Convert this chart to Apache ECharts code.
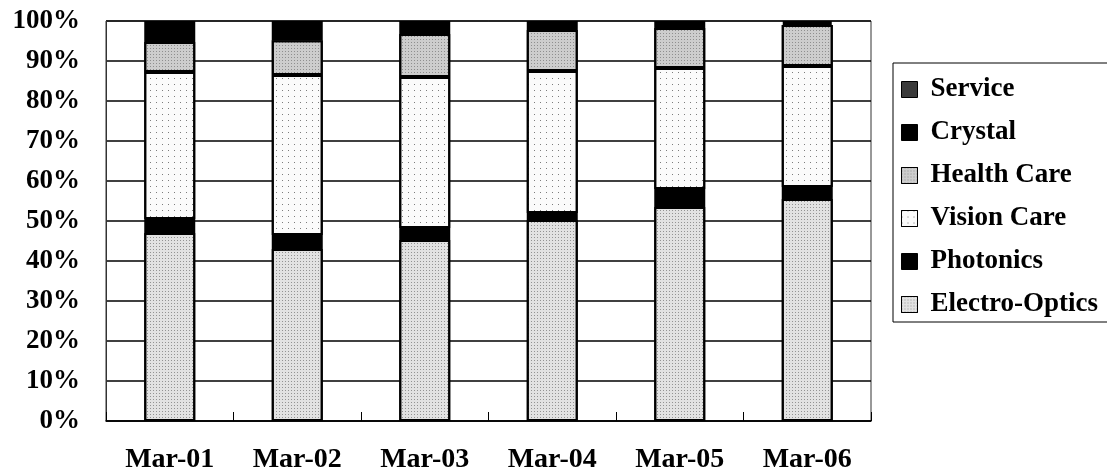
<!DOCTYPE html>
<html>
<head>
<meta charset="utf-8">
<script src="https://cdn.jsdelivr.net/npm/echarts@6/dist/echarts.min.js"></script>
<style>
  html, body { margin: 0; padding: 0; background: #fff; }
  #chart { width: 1107px; height: 476px; }
</style>
</head>
<body>
<div id="chart"></div>
<script>
// 类目 (x 轴)
var categories = ['Mar-01', 'Mar-02', 'Mar-03', 'Mar-04', 'Mar-05', 'Mar-06']
// 各业务占比 (%), 自下而上堆叠
var electroOptics = [47, 43, 45.25, 50.25, 53.5, 55.5]
var photonics = [3.5, 3.5, 3, 1.75, 4.5, 3]
var visionCare = [36.75, 40, 37.75, 35.5, 30.25, 30.25]
var healthCare = [7.5, 8.7, 10.75, 10.25, 10, 10.25]
var crystal = [4.25, 3.8, 2.25, 1.25, 0.75, 0.5]
var service = [1, 1, 1, 1, 1, 0.5]
// 图例顺序 (自上而下)
var legendOrder = ['Service', 'Crystal', 'Health Care', 'Vision Care', 'Photonics', 'Electro-Optics']

var fontFamily = '"Liberation Serif", "Times New Roman", serif'

// 点状纹理
function dots (step, alpha) {
  return {
    symbol: 'rect',
    symbolSize: 1,
    color: 'rgba(0,0,0,' + alpha + ')',
    dashArrayX: [1, step],
    dashArrayY: [1, step],
    rotation: 0
  }
}

function makeSeries (name, data, color, decal) {
  var itemStyle = {
    color: color,
    borderColor: '#000',
    borderWidth: 2
  }
  if (decal) {
    itemStyle.decal = decal
  }
  return {
    name: name,
    type: 'bar',
    stack: 'total',
    barWidth: 51,
    data: data,
    itemStyle: itemStyle,
    emphasis: { disabled: true }
  }
}

var chart = echarts.init(document.getElementById('chart'))
var options = {
  animation: false,
  backgroundColor: '#fff',
  textStyle: { fontFamily: fontFamily },
  grid: {
    show: true,
    left: 106,
    top: 21,
    width: 765,
    height: 400,
    borderColor: '#333',
    borderWidth: 1
  },
  legend: {
    orient: 'vertical',
    left: 893,
    top: 63,
    icon: 'rect',
    itemWidth: 16,
    itemHeight: 16,
    itemGap: 16,
    padding: [13, 60, 4, 8],
    borderColor: '#000',
    borderWidth: 1,
    data: legendOrder,
    itemStyle: { borderColor: '#000', borderWidth: 1 },
    textStyle: {
      fontFamily: fontFamily,
      fontWeight: 'bold',
      fontSize: 27,
      lineHeight: 27,
      color: '#000',
      padding: [0, 0, 0, 8]
    }
  },
  xAxis: {
    type: 'category',
    data: categories,
    axisLine: { show: true, lineStyle: { color: '#000', width: 1.5 } },
    axisTick: { show: true, inside: true, length: 9, lineStyle: { color: '#000' } },
    axisLabel: {
      margin: 25,
      color: '#000',
      fontFamily: fontFamily,
      fontWeight: 'bold',
      fontSize: 28
    }
  },
  yAxis: {
    type: 'value',
    min: 0,
    max: 100,
    interval: 10,
    axisLine: { show: true, lineStyle: { color: '#333', width: 1 } },
    axisTick: { show: false },
    splitLine: { show: true, lineStyle: { color: '#000', width: 1.5 } },
    axisLabel: {
      formatter: '{value}%',
      margin: 26,
      color: '#000',
      fontFamily: fontFamily,
      fontWeight: 'bold',
      fontSize: 27
    }
  },
  series: [
    makeSeries('Electro-Optics', electroOptics, '#e2e2e2', dots(2, 0.35)),
    makeSeries('Photonics', photonics, '#000'),
    makeSeries('Vision Care', visionCare, '#fbfbfb', dots(5, 0.5)),
    makeSeries('Health Care', healthCare, '#cdcdcd', dots(2, 0.3)),
    makeSeries('Crystal', crystal, '#000'),
    makeSeries('Service', service, '#3a3a3a')
  ]
}
chart.setOption(options, true)
</script>
</body>
</html>
